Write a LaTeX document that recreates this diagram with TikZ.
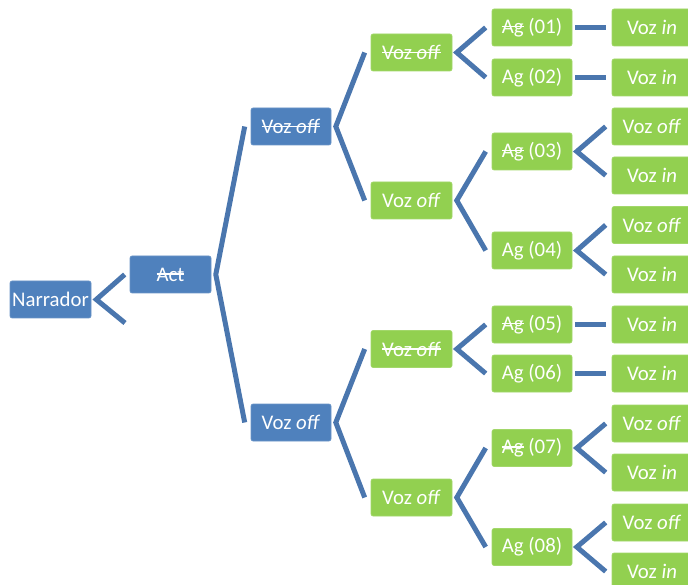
\documentclass[tikz,border=0pt]{standalone}
\usepackage{fontspec}
\setmainfont{Carlito}
\usetikzlibrary{calc}
\definecolor{boxblue}{HTML}{4F81BD}
\definecolor{boxgreen}{HTML}{92D050}
\definecolor{lineblue}{HTML}{4A76AE}
\newsavebox\strkbox
\newcommand{\strk}[1]{\sbox\strkbox{#1}\rlap{\rule[0.3em]{\wd\strkbox}{1.4pt}}\usebox\strkbox}
\tikzset{
  bx/.style={rounded corners=2pt, minimum width=80pt, minimum height=37pt, inner sep=0pt,
    text=white, font=\fontsize{20.8}{24}\selectfont, line width=0.6pt},
  bb/.style={bx, fill=boxblue, draw=boxblue!85!white},
  gb/.style={bx, fill=boxgreen, draw=boxgreen!85!white},
  conn/.style={draw=lineblue, line width=5pt, line join=miter}
}
\newcommand{\fork}[3]{%
  \draw[conn] ($(#2.west)+(-6,0)$) -- ($(#1.east)+(4.5,0)$) -- ($(#3.west)+(-6,0)$);}
\newcommand{\strline}[2]{%
  \draw[conn] ($(#1.east)+(3,0)$) -- ($(#2.west)+(-6,0)$);}
\begin{document}
\begin{tikzpicture}[x=1pt,y=-1pt]
\useasboundingbox (0,0) rectangle (688,585);
\clip (0,0) rectangle (688,585);
% level 1-2
\node[bb, minimum width=81pt] (N) at (50.5,299.5) {Narrador};
\node[bb, minimum width=81pt] (A) at (170.5,274.5) {\strk{Act}};
\node[bb] (V2a) at (291,126.5) {\strk{Voz \textit{off}}};
\node[bb] (V2b) at (291,422.5) {Voz \textit{off}};
% level 3
\node[gb, minimum width=81pt] (V3a) at (411.5,52.5) {\strk{Voz \textit{off}}};
\node[gb, minimum width=81pt] (V3b) at (411.5,200.5) {Voz \textit{off}};
\node[gb, minimum width=81pt] (V3c) at (411.5,349) {\strk{Voz \textit{off}}};
\node[gb, minimum width=81pt] (V3d) at (411.5,497.5) {Voz \textit{off}};
% level 4
\node[gb] (G1) at (532,27.5) {\strk{Ag} (01)};
\node[gb] (G2) at (532,77.5) {Ag (02)};
\node[gb] (G3) at (532,151.5) {\strk{Ag} (03)};
\node[gb] (G4) at (532,250.5) {Ag (04)};
\node[gb] (G5) at (532,324.5) {\strk{Ag} (05)};
\node[gb] (G6) at (532,373.5) {Ag (06)};
\node[gb] (G7) at (532,448) {\strk{Ag} (07)};
\node[gb] (G8) at (532,547) {Ag (08)};
% level 5
\node[gb] (L1) at (652,27.5) {Voz \textit{in}};
\node[gb] (L2) at (652,77.5) {Voz \textit{in}};
\node[gb] (L3a) at (652,126.5) {Voz \textit{off}};
\node[gb] (L3b) at (652,175.5) {Voz \textit{in}};
\node[gb] (L4a) at (652,225) {Voz \textit{off}};
\node[gb] (L4b) at (652,274.5) {Voz \textit{in}};
\node[gb] (L5) at (652,324.5) {Voz \textit{in}};
\node[gb] (L6) at (652,373.5) {Voz \textit{in}};
\node[gb] (L7a) at (652,423.5) {Voz \textit{off}};
\node[gb] (L7b) at (652,472.5) {Voz \textit{in}};
\node[gb] (L8a) at (652,522.5) {Voz \textit{off}};
\node[gb] (L8b) at (652,571.5) {Voz \textit{in}};
% connectors
\coordinate (nfree) at (125,323);
\draw[conn] ($(A.west)+(-5,0)$) -- ($(N.east)+(5,0)$) -- (nfree);
\fork{A}{V2a}{V2b}
\fork{V2a}{V3a}{V3b}
\fork{V2b}{V3c}{V3d}
\fork{V3a}{G1}{G2}
\fork{V3b}{G3}{G4}
\fork{V3c}{G5}{G6}
\fork{V3d}{G7}{G8}
\strline{G1}{L1}
\strline{G2}{L2}
\fork{G3}{L3a}{L3b}
\fork{G4}{L4a}{L4b}
\strline{G5}{L5}
\strline{G6}{L6}
\fork{G7}{L7a}{L7b}
\fork{G8}{L8a}{L8b}
\end{tikzpicture}
\end{document}
